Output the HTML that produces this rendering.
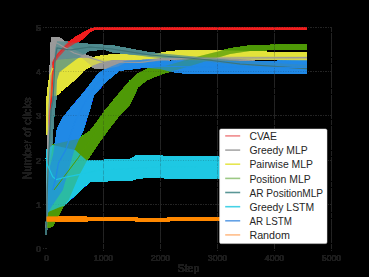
<!DOCTYPE html>
<html><head><meta charset="utf-8"><style>
html,body{margin:0;padding:0;background:#000;width:369px;height:277px;overflow:hidden}
svg{display:block}
text{font-family:"Liberation Sans",sans-serif}
.tk{font-size:9.1px;fill:#1e1e1e;stroke:#1e1e1e;stroke-width:0.2px}
.lb{font-size:10.6px;fill:#1e1e1e;stroke:#1e1e1e;stroke-width:0.2px}
.lg{font-size:10.4px;fill:#262626}
</style></head><body>
<svg width="369" height="277" viewBox="0 0 369 277">
<defs><filter id="noalpha" x="0" y="0" width="369" height="277" filterUnits="userSpaceOnUse" color-interpolation-filters="sRGB">
<feColorMatrix type="matrix" values="1 0 0 0 0  0 1 0 0 0  0 0 1 0 0  0 0 0 0 1"/></filter></defs>
<rect width="369" height="277" fill="#000"/>
<g filter="url(#noalpha)">
<g stroke="#242424" stroke-opacity="0.45" stroke-width="1">
<line x1="103.5" y1="27" x2="103.5" y2="251" stroke-dasharray="5 1.2"/>
<line x1="160.5" y1="27" x2="160.5" y2="251" stroke-dasharray="5 1.2"/>
<line x1="217.5" y1="27" x2="217.5" y2="251" stroke-dasharray="5 1.2"/>
<line x1="274.5" y1="27" x2="274.5" y2="251" stroke-dasharray="5 1.2"/>
<line x1="331.5" y1="27" x2="331.5" y2="251" stroke-dasharray="5 1.2"/>
<line x1="43" y1="204.5" x2="332" y2="204.5" stroke-dasharray="0.9 1.6"/>
<line x1="43" y1="160.5" x2="332" y2="160.5" stroke-dasharray="0.9 1.6"/>
<line x1="43" y1="115.5" x2="332" y2="115.5" stroke-dasharray="0.9 1.6"/>
<line x1="43" y1="71.5" x2="332" y2="71.5" stroke-dasharray="0.9 1.6"/>
<line x1="43" y1="27.5" x2="332" y2="27.5" stroke-dasharray="0.9 1.6"/>
<line x1="43" y1="248.5" x2="46.5" y2="248.5" stroke-dasharray="0.9 1.6"/>
</g>
<polygon points="46.5,228.0 47.4,170.0 48.0,110.0 51.2,37.0 58.8,37.0 65.0,41.7 75.0,50.0 86.0,55.0 95.0,58.0 104.0,60.0 140.0,60.0 170.0,57.0 230.0,56.5 307.0,56.5 307.0,59.5 255.0,60.0 230.0,61.0 170.0,60.0 140.0,63.0 125.0,63.0 118.0,66.5 111.0,68.0 103.8,68.7 93.7,68.0 88.0,63.0 82.0,58.0 70.0,58.0 58.0,61.0 52.5,62.0 50.7,110.0 49.0,170.0 46.5,228.0" fill="#9a9a9a" fill-opacity="0.6"/>
<polygon points="46.5,135.0 46.3,110.0 47.0,95.0 47.5,90.0 49.0,80.0 51.0,68.0 56.0,60.0 76.0,58.0 91.3,57.8 104.0,55.2 112.0,54.8 150.0,55.0 170.0,51.3 190.0,50.0 230.0,50.5 250.0,51.0 272.0,52.3 307.0,52.3 307.0,60.3 275.0,60.0 255.0,59.8 230.0,58.5 190.0,57.0 170.0,57.0 150.0,59.0 112.0,60.0 99.4,63.0 92.2,65.8 85.0,69.4 77.0,78.0 61.0,91.0 58.0,94.5 56.0,95.8 54.0,95.8 52.0,96.5 50.5,100.0 49.5,110.0 48.0,130.0 46.5,135.0" fill="#e2e23a" fill-opacity="0.6"/>
<polygon points="46.5,226.0 48.0,190.0 50.0,160.0 52.9,144.5 78.9,138.8 90.0,131.0 97.2,121.7 104.4,111.6 113.8,100.0 120.0,92.5 129.0,81.7 138.0,73.5 147.0,69.0 156.0,67.2 165.0,66.0 190.0,59.0 200.0,56.0 230.0,48.5 250.0,45.5 307.0,44.0 307.0,49.8 272.0,49.8 250.0,51.0 230.0,54.0 200.0,63.0 190.0,66.0 170.0,71.7 163.3,73.5 156.0,76.2 147.0,79.9 138.0,87.0 130.0,104.3 118.9,115.9 108.8,128.9 100.8,140.0 87.0,160.5 78.8,175.9 68.7,200.0 63.5,206.0 52.7,226.6 46.5,228.0" fill="#4f9a06" fill-opacity="0.6"/>
<polygon points="46.5,228.0 48.0,170.0 50.5,110.0 52.0,100.0 54.0,70.0 55.0,50.0 57.0,41.3 65.8,41.7 78.8,43.0 90.5,44.3 112.0,45.4 150.0,52.6 200.0,57.0 240.0,61.0 307.0,65.0 307.0,69.5 240.0,65.0 200.0,61.0 150.0,57.0 112.0,52.0 104.0,49.5 88.7,50.8 86.1,53.0 80.0,57.0 76.0,59.5 59.5,72.0 57.0,80.0 56.0,100.0 53.6,120.0 52.0,145.0 51.0,170.0 46.5,228.0" fill="#4f8a8e" fill-opacity="0.6"/>
<polygon points="48.0,135.0 50.0,100.0 52.3,62.0 56.0,55.0 63.0,47.0 66.0,44.0 75.0,37.5 83.0,32.7 90.3,28.7 95.0,27.4 307.0,27.4 307.0,29.5 95.0,29.5 90.0,32.0 81.0,40.0 74.0,44.0 66.0,49.0 58.0,58.0 54.0,64.0 51.0,100.0 49.0,135.0" fill="#f01e1e" fill-opacity="0.6"/>
<polygon points="46.5,150.0 52.7,145.0 75.0,150.0 86.7,160.5 104.0,160.5 106.0,159.0 130.0,159.0 133.0,157.6 136.0,155.5 160.0,155.3 165.0,156.5 200.0,156.0 220.0,157.0 220.0,178.5 200.0,178.5 170.0,179.0 160.0,177.6 146.0,177.8 137.0,178.5 132.0,180.6 109.0,180.4 107.0,181.3 90.0,181.5 63.5,206.0 60.0,207.0 48.0,212.0 46.5,228.0" fill="#1ec8e2" fill-opacity="0.6"/>
<polygon points="46.5,228.0 47.0,200.0 49.0,170.0 53.0,155.0 55.5,140.0 57.2,129.0 62.0,119.0 70.0,109.0 84.7,91.4 92.2,81.7 99.4,72.3 105.2,69.4 110.0,67.0 125.0,61.0 150.0,59.5 170.0,61.0 190.0,60.0 230.0,61.0 255.0,61.3 275.0,61.3 280.0,60.6 307.0,60.6 307.0,74.0 190.0,74.0 170.0,71.5 160.0,69.0 144.0,67.5 133.0,69.1 125.0,69.5 120.0,70.5 115.3,73.8 106.7,81.0 93.7,95.0 90.0,108.8 83.2,130.0 78.3,140.8 74.3,150.0 62.8,190.0 52.0,206.0 47.5,214.0 46.5,228.0" fill="#2088e6" fill-opacity="0.6"/>
<polyline points="48.5,125 49.6,110 51.5,100 53.3,70 54,60 58,54 66,46 75,39.5 83,34.2 90,30.2 95,28.4 307,28.4" fill="none" stroke="#f01e1e" stroke-width="0.9" />
<polyline points="46.5,228 47.5,170 49,110 51,60 53,42 57.8,43.5 74,53 91.3,58.2 104,62 140,62.5 170,58.5 230,58 307,57.7" fill="none" stroke="#9a9a9a" stroke-width="1.2" />
<polyline points="46.7,135 47,110 48,100 50,75 53,68" fill="none" stroke="#e2e23a" stroke-width="1.0" />
<polyline points="54,190 78.7,157.2 90,140 100,125 113,106 130,88 150,73" fill="none" stroke="#4f9a06" stroke-width="1.0" />
<polyline points="46.3,235 46.5,226 47,200 48,170 51,110 53,100 55,60 57,48 70,50 90,47 112,49 150,55 200,59 240,64 307,68.6" fill="none" stroke="#3e7478" stroke-width="1.2" />
<polyline points="46.5,158 46.9,163.7 52.7,176.7 56.3,179.6 64.2,177.5 78.7,174.6 86,173 100,170 130,168.5 160,167 200,166.5 220,166.5" fill="none" stroke="#1ec8e2" stroke-width="1.2" />
<polyline points="52.7,190 55.6,178.9 58.5,163 65.7,150 75,122 85,102 95,86 105,76 120,70 150,66 200,67 307,67.5" fill="none" stroke="#2088e6" stroke-width="1.2" />
<polygon points="46.5,216.5 84.0,216.5 88.0,217.3 135.0,217.5 140.0,218.3 165.0,218.3 172.0,217.3 220.0,217.3 220.0,220.8 172.0,220.8 165.0,222.0 140.0,222.0 135.0,221.0 88.0,220.9 84.0,221.6 46.5,221.7" fill="#ff8800"/>
<text x="46.5" y="260.8" text-anchor="middle" class="tk">0</text>
<text x="103.5" y="260.8" text-anchor="middle" class="tk" textLength="19.3" lengthAdjust="spacingAndGlyphs">1000</text>
<text x="160.5" y="260.8" text-anchor="middle" class="tk" textLength="19.3" lengthAdjust="spacingAndGlyphs">2000</text>
<text x="217.5" y="260.8" text-anchor="middle" class="tk" textLength="19.3" lengthAdjust="spacingAndGlyphs">3000</text>
<text x="274.5" y="260.8" text-anchor="middle" class="tk" textLength="19.3" lengthAdjust="spacingAndGlyphs">4000</text>
<text x="331.5" y="260.8" text-anchor="middle" class="tk" textLength="19.3" lengthAdjust="spacingAndGlyphs">5000</text>
<text x="41" y="251.5" text-anchor="end" class="tk">0</text>
<text x="41" y="207.5" text-anchor="end" class="tk">1</text>
<text x="41" y="163.5" text-anchor="end" class="tk">2</text>
<text x="41" y="118.5" text-anchor="end" class="tk">3</text>
<text x="41" y="74.5" text-anchor="end" class="tk">4</text>
<text x="41" y="30.5" text-anchor="end" class="tk">5</text>
<text class="lb" x="188.5" y="272" text-anchor="middle">Step</text>
<text class="lb" style="font-size:11.1px" transform="translate(31.3,138.5) rotate(-90)" text-anchor="middle">Number of clicks</text>
</g>
<rect x="219.6" y="129" width="107.4" height="114.6" rx="1.5" fill="#fff" stroke="#e0e0e0" stroke-width="0.5"/>
<line x1="225.2" y1="135.9" x2="240.2" y2="135.9" stroke="#f08a8c" stroke-width="1.6"/>
<text x="249.4" y="140.1" class="lg">CVAE</text>
<line x1="225.2" y1="150.1" x2="240.2" y2="150.1" stroke="#a8a8a8" stroke-width="1.6"/>
<text x="249.4" y="154.2" class="lg">Greedy MLP</text>
<line x1="225.2" y1="164.2" x2="240.2" y2="164.2" stroke="#e6e650" stroke-width="1.6"/>
<text x="249.4" y="168.4" class="lg">Pairwise MLP</text>
<line x1="225.2" y1="178.4" x2="240.2" y2="178.4" stroke="#9cc884" stroke-width="1.6"/>
<text x="249.4" y="182.6" class="lg">Position MLP</text>
<line x1="225.2" y1="192.5" x2="240.2" y2="192.5" stroke="#5a9696" stroke-width="1.6"/>
<text x="249.4" y="196.7" class="lg" textLength="73.7" lengthAdjust="spacingAndGlyphs">AR PositionMLP</text>
<line x1="225.2" y1="206.7" x2="240.2" y2="206.7" stroke="#46d2e6" stroke-width="1.6"/>
<text x="249.4" y="210.8" class="lg">Greedy LSTM</text>
<line x1="225.2" y1="220.8" x2="240.2" y2="220.8" stroke="#64a2e6" stroke-width="1.6"/>
<text x="249.4" y="225.0" class="lg" textLength="42.5" lengthAdjust="spacingAndGlyphs">AR LSTM</text>
<line x1="225.2" y1="234.9" x2="240.2" y2="234.9" stroke="#ffbe8a" stroke-width="1.6"/>
<text x="249.4" y="239.1" class="lg" textLength="40.5" lengthAdjust="spacingAndGlyphs">Random</text>
</svg>
</body></html>
